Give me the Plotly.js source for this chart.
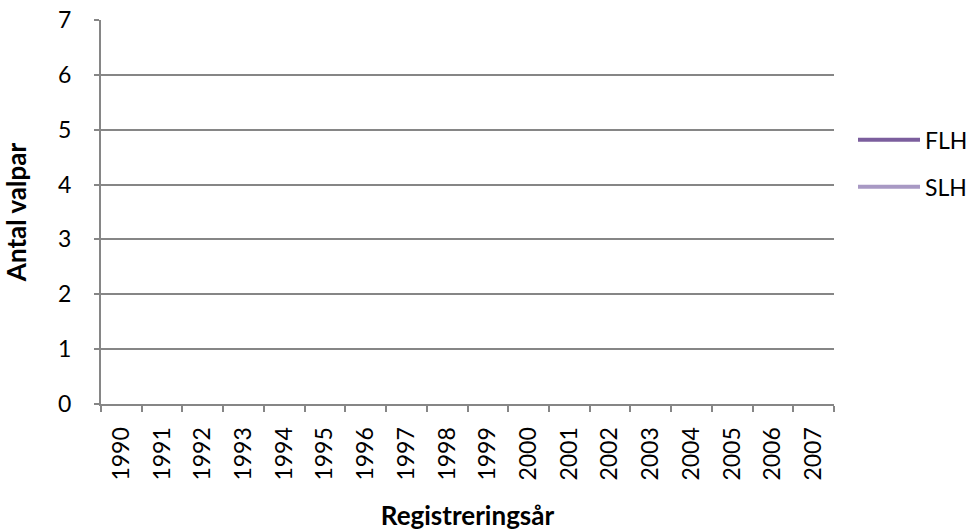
<!DOCTYPE html>
<html>
<head>
<meta charset="utf-8">
<script src="https://cdn.plot.ly/plotly-3.0.1.min.js"></script>
<style>
  html, body { margin: 0; padding: 0; background: #fff; }
  #chart { width: 973px; height: 531px; }
</style>
</head>
<body>
<div id="chart"></div>
<script>
// --- Data ---
// Years on the category axis
const years = ['1990', '1991', '1992', '1993', '1994', '1995', '1996', '1997', '1998',
               '1999', '2000', '2001', '2002', '2003', '2004', '2005', '2006', '2007'];

// No line is drawn in the reference, so both series are empty
const flh = [null, null, null, null, null, null, null, null, null,
             null, null, null, null, null, null, null, null, null];
const slh = [null, null, null, null, null, null, null, null, null,
             null, null, null, null, null, null, null, null, null];

const yTicks = [0, 1, 2, 3, 4, 5, 6, 7];

// --- Traces ---
const traces = [
    {
        x: years,
        y: flh,
        type: 'scatter',
        mode: 'lines',
        name: 'FLH',
        legendgroup: 'flh',
        line: { color: '#7b5e9d', width: 4 }
    },
    {
        x: years,
        y: slh,
        type: 'scatter',
        mode: 'lines',
        name: 'SLH',
        legendgroup: 'slh',
        line: { color: '#a899c4', width: 4 }
    }
];

const gridColor = '#868686';
const fontFamily = 'Lato, "Open Sans", sans-serif';

// --- Layout ---
const layout = {
    width: 973,
    height: 531,
    margin: { l: 101, r: 139, t: 20, b: 127 },
    paper_bgcolor: '#ffffff',
    plot_bgcolor: '#ffffff',
    font: { family: fontFamily, size: 23, color: '#000000' },
    showlegend: true,
    legend: {
        xref: 'container',
        yref: 'container',
        x: 1.0,
        y: 0.777,
        xanchor: 'right',
        yanchor: 'top',
        font: { family: fontFamily, size: 23, color: '#000000' },
        traceorder: 'grouped',
        tracegroupgap: 14,
        itemwidth: 62,
        borderwidth: 0,
        bgcolor: 'rgba(0,0,0,0)'
    },
    xaxis: {
        type: 'category',
        categoryorder: 'array',
        categoryarray: years,
        range: [-0.5, 17.5],
        tickson: 'boundaries',
        ticks: 'outside',
        ticklen: 6,
        tickwidth: 2,
        tickcolor: gridColor,
        tickangle: -90,
        ticklabelstandoff: 12,
        tickfont: { family: fontFamily, size: 23 },
        showgrid: false,
        showline: true,
        linecolor: gridColor,
        linewidth: 2,
        zeroline: false,
        automargin: false,
        title: {
            text: '<b>Registreringsår</b>',
            font: { family: fontFamily, size: 26 },
            standoff: 32
        }
    },
    yaxis: {
        range: [0, 7],
        tickvals: yTicks,
        ticks: 'outside',
        ticklen: 5,
        tickwidth: 2,
        tickcolor: gridColor,
        ticklabelstandoff: 18,
        tickfont: { family: fontFamily, size: 23 },
        showgrid: true,
        gridcolor: gridColor,
        gridwidth: 2,
        showline: true,
        linecolor: gridColor,
        linewidth: 2,
        zeroline: false,
        automargin: false,
        title: {
            text: '<b>Antal valpar</b>',
            font: { family: fontFamily, size: 26 },
            standoff: 25
        }
    }
};

Plotly.newPlot('chart', traces, layout, { displayModeBar: false, staticPlot: true });
</script>
</body>
</html>
